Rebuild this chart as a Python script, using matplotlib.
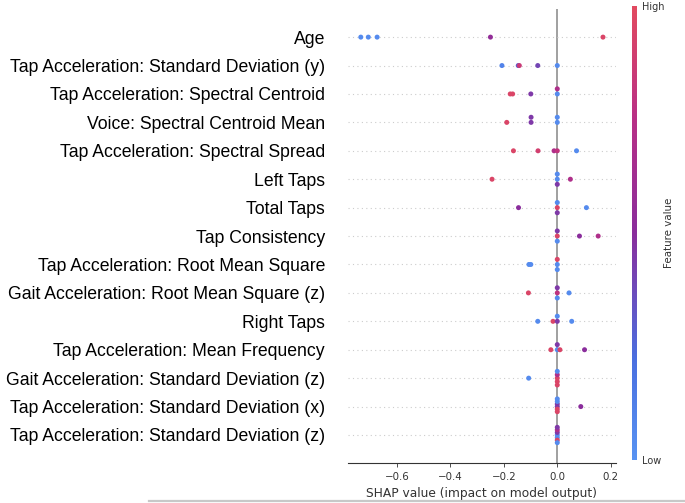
import numpy as np
import matplotlib
matplotlib.use("Agg")
import matplotlib.pyplot as plt
from matplotlib.colors import LinearSegmentedColormap
from matplotlib.lines import Line2D


features = [
    "Age",
    "Tap Acceleration: Standard Deviation (y)",
    "Tap Acceleration: Spectral Centroid",
    "Voice: Spectral Centroid Mean",
    "Tap Acceleration: Spectral Spread",
    "Left Taps",
    "Total Taps",
    "Tap Consistency",
    "Tap Acceleration: Root Mean Square",
    "Gait Acceleration: Root Mean Square (z)",
    "Right Taps",
    "Tap Acceleration: Mean Frequency",
    "Gait Acceleration: Standard Deviation (z)",
    "Tap Acceleration: Standard Deviation (x)",
    "Tap Acceleration: Standard Deviation (z)",
]

# SHAP values per feature (top to bottom)
shap_values = [
    [-0.735, -0.707, -0.674, -0.25, 0.171],
    [-0.207, -0.146, -0.142, -0.073, 0.0],
    [-0.176, -0.167, -0.099, 0.0, 0.0],
    [-0.189, -0.098, -0.098, 0.0, 0.0],
    [-0.164, -0.072, -0.012, 0.0, 0.072],
    [-0.244, 0.0, 0.0, 0.0, 0.049],
    [-0.145, 0.0, 0.0, 0.0, 0.109],
    [0.0, 0.0, 0.0, 0.083, 0.153],
    [-0.106, -0.099, 0.0, 0.0, 0.0],
    [-0.108, 0.0, 0.0, 0.0, 0.044],
    [-0.073, -0.016, 0.0, 0.0, 0.054],
    [-0.024, 0.0, 0.0, 0.01, 0.102],
    [-0.107, 0.0, 0.0, 0.0, 0.0, 0.0],
    [0.0, 0.0, 0.0, 0.0, 0.0, 0.0, 0.088],
    [0.0, 0.0, 0.0, 0.0, 0.0, 0.0, 0.0],
]

# normalised feature values (0 = low / blue, 1 = high / red)
feature_values = [
    [0.05, 0.05, 0.05, 0.55, 0.95],
    [0.1, 0.3, 0.85, 0.4, 0.05],
    [0.95, 0.95, 0.45, 0.05, 0.7],
    [0.95, 0.45, 0.45, 0.05, 0.05],
    [0.95, 0.9, 0.7, 0.8, 0.05],
    [0.95, 0.05, 0.05, 0.45, 0.7],
    [0.5, 0.95, 0.05, 0.45, 0.05],
    [0.95, 0.45, 0.05, 0.5, 0.7],
    [0.05, 0.05, 0.05, 0.95, 0.05],
    [0.95, 0.8, 0.45, 0.05, 0.05],
    [0.05, 0.95, 0.45, 0.05, 0.05],
    [0.95, 0.05, 0.45, 0.95, 0.5],
    [0.05, 0.95, 0.7, 0.95, 0.05, 0.95],
    [0.45, 0.45, 0.95, 0.05, 0.95, 0.05, 0.5],
    [0.05, 0.45, 0.05, 0.7, 0.95, 0.45, 0.05],
]

cmap = LinearSegmentedColormap.from_list(
    "red_blue",
    [(0.0, "#5893f2"), (0.22, "#4a6fe0"), (0.5, "#8a2d9c"),
     (0.75, "#b82f86"), (1.0, "#e24a60")],
)


def swarm_offsets(x, row_height=0.4, nbins=100):
    # same layering idea as shap's beeswarm
    x = np.asarray(x, dtype=float)
    quant = np.round(nbins * (x - x.min()) / (x.max() - x.min() + 1e-8))
    order = np.argsort(quant, kind="stable")
    ys = np.zeros(len(x))
    layer, last = 0, None
    for i in order:
        if quant[i] != last:
            layer = 0
        ys[i] = np.ceil(layer / 2) * ((layer % 2) * 2 - 1)
        layer += 1
        last = quant[i]
    ys *= 0.9 * (row_height / np.max(ys + 1))
    return ys


fig = plt.figure(figsize=(6.85, 5.03), dpi=100)
ax = fig.add_axes([0.508, 0.0787, 0.391, 0.904])

n = len(features)
ax.axvline(0, color="#999999", lw=1.3, zorder=-1)
for i, name in enumerate(features):
    pos = n - 1 - i
    ax.axhline(pos, color="#cccccc", lw=0.8, dashes=(1, 3), zorder=-1)
    xs = np.array(shap_values[i])
    ax.scatter(xs, pos + swarm_offsets(xs), c=feature_values[i], cmap=cmap,
               vmin=0, vmax=1, s=13, linewidth=0, zorder=3)

ax.set_yticks(range(n))
ax.set_yticklabels(features[::-1], fontsize=12.7, family="Liberation Sans")
ax.tick_params("y", length=0, pad=16.5)
ax.set_ylim(-1, n)
ax.set_xlim(-0.783, 0.219)
ax.set_xticks([-0.6, -0.4, -0.2, 0.0, 0.2])
ax.tick_params("x", labelsize=7.4, color="#333333", labelcolor="#333333",
               length=3, width=0.6)
ax.set_xlabel("SHAP value (impact on model output)", fontsize=8.8,
              color="#333333", labelpad=3)
for side in ["left", "right", "top"]:
    ax.spines[side].set_visible(False)
ax.spines["bottom"].set_color("#333333")
ax.spines["bottom"].set_linewidth(0.8)

cax = fig.add_axes([0.9226, 0.0855, 0.008, 0.9026])
sm = plt.cm.ScalarMappable(cmap=cmap, norm=plt.Normalize(0, 1))
cb = fig.colorbar(sm, cax=cax, ticks=[0, 1])
cb.set_ticklabels(["Low", "High"])
cb.ax.tick_params(labelsize=7, length=0, pad=3, labelcolor="#333333")
cb.set_label("Feature value", size=7.4, labelpad=0, color="#333333")
cb.outline.set_visible(False)

fig.add_artist(Line2D([149 / 685, 1.0], [1 - 501 / 503] * 2,
                      transform=fig.transFigure, color="#c8c8c8", lw=1.6))

fig.savefig("out.png", dpi=100)
